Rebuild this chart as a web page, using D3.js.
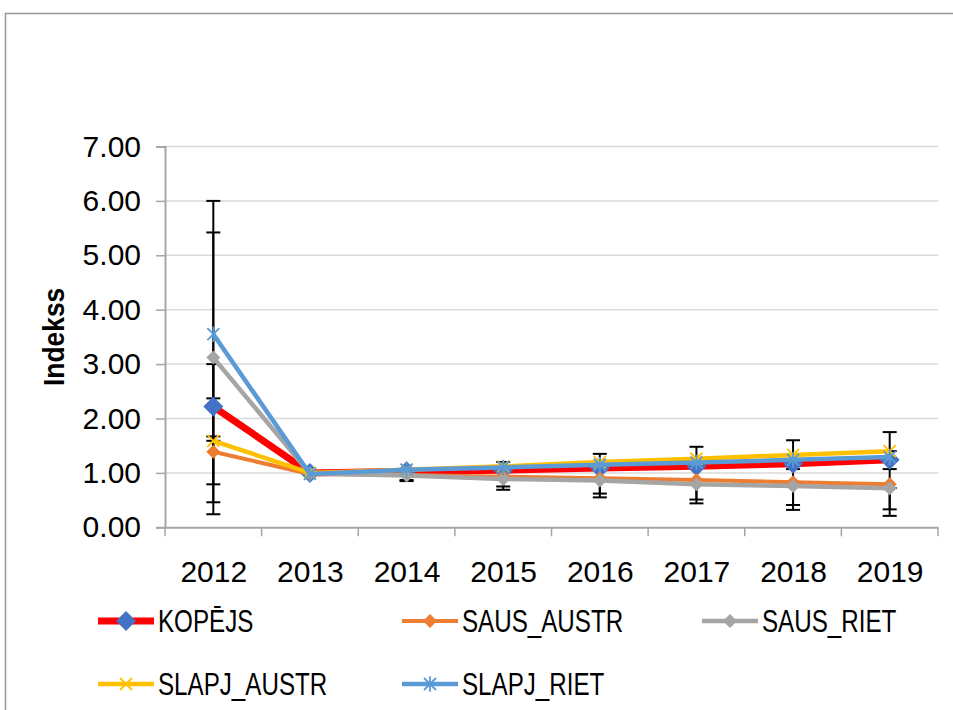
<!DOCTYPE html>
<html>
<head>
<meta charset="utf-8">
<script src="https://cdn.jsdelivr.net/npm/d3@7/dist/d3.min.js"></script>
<style>
body { margin: 0; background: #fff; }
svg text { font-family: "Liberation Sans", Arial, sans-serif; fill: #000; }
</style>
</head>
<body>
<svg id="chart" width="953" height="710"></svg>
<script>
// data
var years = ["2012", "2013", "2014", "2015", "2016", "2017", "2018", "2019"];
var yTicks = [0, 1, 2, 3, 4, 5, 6, 7];
var seriesNames = ["KOPĒJS", "SAUS_AUSTR", "SAUS_RIET", "SLAPJ_AUSTR", "SLAPJ_RIET"];

var kopejs     = [2.22, 1.00, 1.03, 1.05, 1.09, 1.12, 1.17, 1.24];
var sausAustr  = [1.39, 0.98, 0.96, 0.93, 0.90, 0.87, 0.83, 0.79];
var sausRiet   = [3.12, 0.99, 0.95, 0.89, 0.86, 0.79, 0.76, 0.72];
var slapjAustr = [1.59, 1.00, 1.06, 1.12, 1.20, 1.26, 1.33, 1.40];
var slapjRiet  = [3.55, 0.98, 1.06, 1.10, 1.15, 1.19, 1.24, 1.29];

// error bar ends (null = no bar)
var kopejsLow      = [2.22, null, null, null, null, null, null, null];
var kopejsHigh     = [2.37, null, null, null, null, null, null, null];
var sausAustrLow   = [0.24, null, 0.87, 0.75, 0.62, 0.51, 0.41, 0.33];
var sausAustrHigh  = [3.00, null, 0.96, 0.93, 0.90, 0.87, 1.07, 1.07];
var sausRietLow    = [0.79, null, 0.85, 0.69, 0.55, 0.44, 0.32, 0.21];
var sausRietHigh   = [5.42, null, 0.95, 0.89, 0.86, 0.79, 0.76, 0.72];
var slapjAustrLow  = [1.59, null, null, 1.12, 1.20, 1.26, 1.33, 1.40];
var slapjAustrHigh = [1.67, null, null, 1.20, 1.35, 1.48, 1.60, 1.75];
var slapjRietLow   = [0.46, null, null, null, null, null, null, null];
var slapjRietHigh  = [6.00, null, null, null, null, null, null, null];

var series = [
    { name: seriesNames[0], values: kopejs, low: kopejsLow, high: kopejsHigh,
      color: "#ff0000", width: 7, marker: "diamond", mcolor: "#4472c4", msize: 10 },
    { name: seriesNames[1], values: sausAustr, low: sausAustrLow, high: sausAustrHigh,
      color: "#ed7d31", width: 4, marker: "diamond", mcolor: "#ed7d31", msize: 7 },
    { name: seriesNames[2], values: sausRiet, low: sausRietLow, high: sausRietHigh,
      color: "#a5a5a5", width: 4.5, marker: "diamond", mcolor: "#a5a5a5", msize: 7 },
    { name: seriesNames[3], values: slapjAustr, low: slapjAustrLow, high: slapjAustrHigh,
      color: "#ffc000", width: 4.5, marker: "x", mcolor: "#ffc000", msize: 6 },
    { name: seriesNames[4], values: slapjRiet, low: slapjRietLow, high: slapjRietHigh,
      color: "#5b9bd5", width: 4.5, marker: "star", mcolor: "#5b9bd5", msize: 6 }
];

var margin = { top: 146.5, left: 165, right: 15, bottom: 182.7 };
var svg = d3.select("#chart");
var width = 953 - margin.left - margin.right;
var height = 710 - margin.top - margin.bottom;

// chart area border
svg.append("rect")
    .attr("x", 5.5).attr("y", 13.5)
    .attr("width", 960).attr("height", 720)
    .attr("fill", "#fff").attr("stroke", "#999").attr("stroke-width", 1.5);

var g = svg.append("g")
    .attr("transform", "translate(" + margin.left + "," + margin.top + ")");

var x = d3.scalePoint().domain(years).range([0, width]).padding(0.5);
var xBand = d3.scaleBand().domain(years).range([0, width]);
var y = d3.scaleLinear().domain([0, 7]).range([height, 0]);

// gridlines
g.append("g").selectAll("line")
    .data(yTicks.slice(1))
    .enter().append("line")
    .attr("x1", 0).attr("x2", width)
    .attr("y1", function (d) { return y(d); })
    .attr("y2", function (d) { return y(d); })
    .attr("stroke", "#d9d9d9").attr("stroke-width", 1.5);

// y axis
var yAxis = g.append("g")
    .call(d3.axisLeft(y).tickValues(yTicks).tickFormat(d3.format(".2f")).tickSize(9).tickPadding(15));
yAxis.select(".domain").attr("stroke", "#a6a6a6").attr("stroke-width", 2);
yAxis.selectAll(".tick line").attr("stroke", "#a6a6a6").attr("stroke-width", 1.5);
yAxis.selectAll(".tick text").style("font-size", "30px").attr("fill", "#000");

// x axis with ticks on category boundaries
var xAxis = g.append("g")
    .attr("transform", "translate(0," + height + ")")
    .call(d3.axisBottom(x).tickSize(0).tickPadding(33));
xAxis.select(".domain").attr("stroke", "#a6a6a6").attr("stroke-width", 2);
xAxis.selectAll(".tick text").style("font-size", "30px").attr("fill", "#000").attr("dy", "0.71em");
xAxis.append("g").selectAll("line")
    .data(years.concat(["end"]))
    .enter().append("line")
    .attr("x1", function (d, i) { return i * xBand.step(); })
    .attr("x2", function (d, i) { return i * xBand.step(); })
    .attr("y1", 0).attr("y2", 9)
    .attr("stroke", "#a6a6a6").attr("stroke-width", 1.5);

// y axis title
svg.append("text")
    .attr("transform", "translate(64," + (margin.top + height / 2) + ") rotate(-90) scale(0.88,1)")
    .attr("text-anchor", "middle")
    .style("font-size", "30px").style("font-weight", "bold")
    .text("Indekss");

// error bars
var errG = g.append("g");
series.forEach(function (s) {
    years.forEach(function (yr, i) {
        if (s.low[i] == null) return;
        var cx = x(yr), y1 = y(s.low[i]), y2 = y(s.high[i]);
        errG.append("line").attr("x1", cx).attr("x2", cx).attr("y1", y1).attr("y2", y2)
            .attr("stroke", "#000").attr("stroke-width", 2);
        [y1, y2].forEach(function (yy) {
            errG.append("line").attr("x1", cx - 7).attr("x2", cx + 7).attr("y1", yy).attr("y2", yy)
                .attr("stroke", "#000").attr("stroke-width", 2);
        });
    });
});

function markerPath(type, r) {
    if (type == "diamond") return "M0," + (-r) + "L" + r + ",0L0," + r + "L" + (-r) + ",0Z";
    var p = "M" + (-r) + "," + (-r) + "L" + r + "," + r + "M" + (-r) + "," + r + "L" + r + "," + (-r);
    if (type == "star") p += "M0," + (-r * 1.3) + "L0," + (r * 1.3);
    return p;
}

function drawMarker(sel, s) {
    if (s.marker == "diamond") {
        sel.attr("d", markerPath("diamond", s.msize)).attr("fill", s.mcolor).attr("stroke", "none");
    } else {
        sel.attr("d", markerPath(s.marker, s.msize)).attr("fill", "none")
            .attr("stroke", s.mcolor).attr("stroke-width", 1.8);
    }
}

var line = d3.line()
    .x(function (d, i) { return x(years[i]); })
    .y(function (d) { return y(d); });

series.forEach(function (s) {
    var sg = g.append("g");
    sg.append("path")
        .datum(s.values)
        .attr("d", line)
        .attr("fill", "none")
        .attr("stroke", s.color)
        .attr("stroke-width", s.width)
        .attr("stroke-linejoin", "round");
    sg.selectAll(".marker")
        .data(s.values)
        .enter().append("path")
        .attr("class", "marker")
        .attr("transform", function (d, i) { return "translate(" + x(years[i]) + "," + y(d) + ")"; })
        .call(drawMarker, s);
});

// legend
var legendPos = [[98, 621], [402, 621], [702, 621], [98, 684], [402, 684]];
series.forEach(function (s, i) {
    var lg = svg.append("g").attr("transform", "translate(" + legendPos[i][0] + "," + legendPos[i][1] + ")");
    lg.append("line").attr("x1", 0).attr("x2", 56).attr("y1", 0).attr("y2", 0)
        .attr("stroke", s.color).attr("stroke-width", s.width);
    lg.append("path").attr("transform", "translate(28,0)").call(drawMarker, s);
    lg.append("text").attr("transform", "translate(60,0) scale(0.78,1)").attr("dy", "0.35em")
        .style("font-size", "31px").text(s.name);
});
</script>
</body>
</html>
